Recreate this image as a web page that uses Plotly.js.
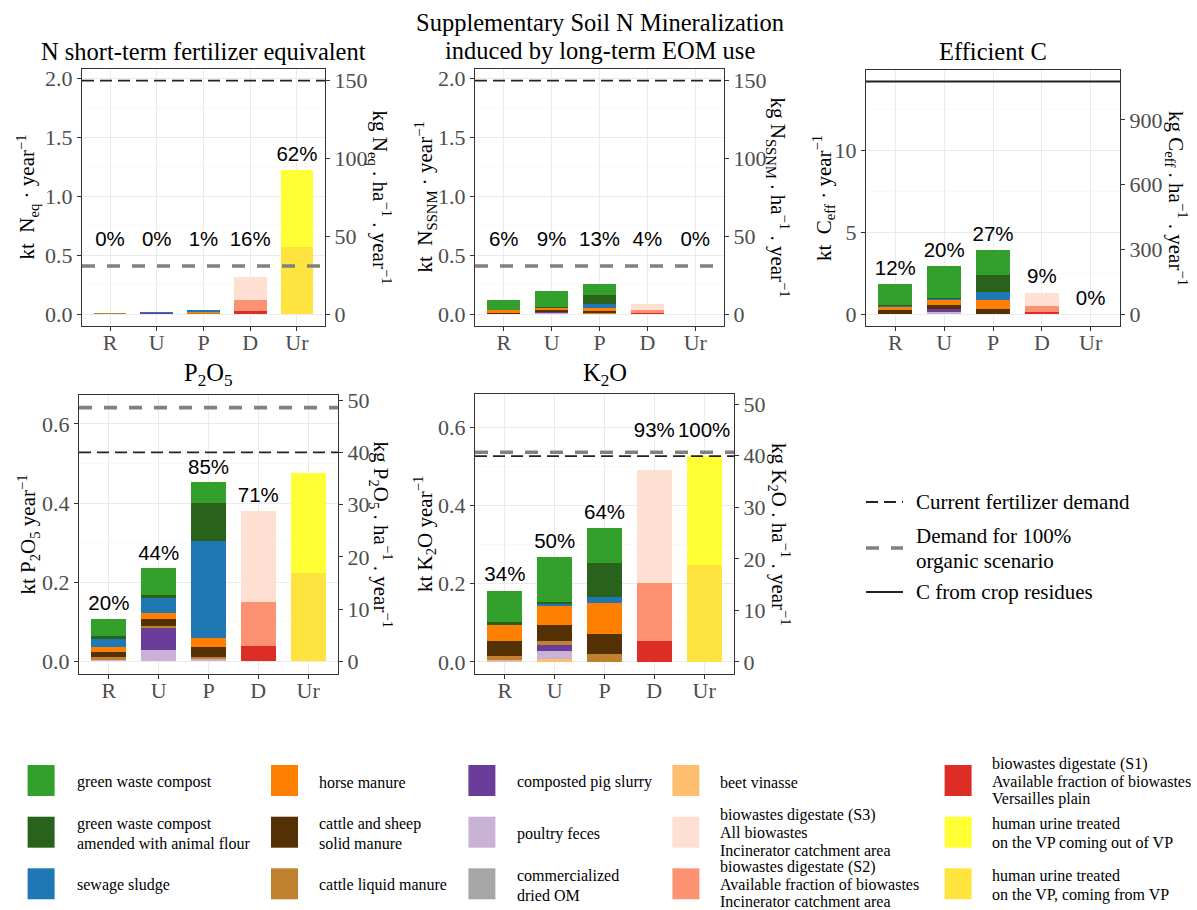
<!DOCTYPE html>
<html>
<head>
<meta charset="utf-8">
<script src="https://cdn.plot.ly/plotly-3.0.1.min.js"></script>
<style>html,body{margin:0;padding:0;background:#fff;}#chart{width:1197px;height:910px;}</style>
</head>
<body>
<div id="chart"></div>
<script>
// ---------------- DATA ----------------
const categories = ["R", "U", "P", "D", "Ur"];

// sources in legend order
const sourceNames = [
  "green waste compost", "green waste compost amended with animal flour", "sewage sludge",
  "horse manure", "cattle and sheep solid manure", "cattle liquid manure",
  "composted pig slurry", "poultry feces", "commercialized dried OM",
  "beet vinasse", "biowastes digestate (S3)", "biowastes digestate (S2)",
  "biowastes digestate (S1)", "human urine treated on the VP coming out of VP",
  "human urine treated on the VP, coming from VP"
];
const sourceColors = [
  "#33A02C", "#29621B", "#1F78B4",
  "#FF7F00", "#543005", "#BF812D",
  "#6A3D9A", "#CAB2D6", "#A6A6A6",
  "#FDBF6F", "#FEE0D2", "#FC9272",
  "#DE2D26", "#FFFF33", "#FFE33F"
];
const legendLabels = [
  ["green waste compost"],
  ["green waste compost", "amended with animal flour"],
  ["sewage sludge"],
  ["horse manure"],
  ["cattle and sheep", "solid manure"],
  ["cattle liquid manure"],
  ["composted pig slurry"],
  ["poultry feces"],
  ["commercialized", "dried OM"],
  ["beet vinasse"],
  ["biowastes digestate (S3)", "All biowastes", "Incinerator catchment area"],
  ["biowastes digestate (S2)", "Available fraction of biowastes", "Incinerator catchment area"],
  ["biowastes digestate (S1)", "Available fraction of biowastes", "Versailles plain"],
  ["human urine treated", "on the VP coming out of VP"],
  ["human urine treated", "on the VP, coming from VP"]
];

// kt per year; rows = sources (legend order), columns = categories R,U,P,D,Ur
const nEqValues = [
  [0, 0, 0, 0, 0],
  [0, 0, 0, 0, 0],
  [0, 0.011, 0.017, 0, 0],
  [0, 0, 0.005, 0, 0],
  [0, 0, 0.004, 0, 0],
  [0.007, 0, 0.008, 0, 0],
  [0, 0.003, 0, 0, 0],
  [0, 0.004, 0, 0, 0],
  [0, 0, 0, 0, 0],
  [0.004, 0.002, 0, 0, 0],
  [0, 0, 0, 0.20, 0],
  [0, 0, 0, 0.095, 0],
  [0, 0, 0, 0.025, 0],
  [0, 0, 0, 0, 0.65],
  [0, 0, 0, 0, 0.57]
];
const ssnmValues = [
  [0.08, 0.133, 0.10, 0, 0],
  [0.005, 0.007, 0.07, 0, 0],
  [0, 0.005, 0.033, 0, 0],
  [0.025, 0.015, 0.029, 0, 0],
  [0.005, 0.012, 0.018, 0, 0],
  [0.005, 0, 0.01, 0, 0],
  [0, 0.01, 0, 0, 0],
  [0, 0.008, 0, 0, 0],
  [0, 0, 0, 0, 0],
  [0, 0.005, 0, 0, 0],
  [0, 0, 0, 0.051, 0],
  [0, 0, 0, 0.024, 0],
  [0, 0, 0, 0.01, 0],
  [0, 0, 0, 0, 0],
  [0, 0, 0, 0, 0]
];
const cEffValues = [
  [1.28, 1.90, 1.56, 0, 0],
  [0.05, 0.10, 1.02, 0, 0],
  [0.03, 0.08, 0.51, 0, 0],
  [0.23, 0.25, 0.50, 0, 0],
  [0.20, 0.25, 0.30, 0, 0],
  [0.04, 0.03, 0.05, 0, 0],
  [0, 0.20, 0, 0, 0],
  [0, 0.12, 0, 0, 0],
  [0, 0, 0, 0, 0],
  [0, 0, 0, 0, 0],
  [0, 0, 0, 0.79, 0],
  [0, 0, 0, 0.39, 0],
  [0, 0, 0, 0.14, 0],
  [0, 0, 0, 0, 0],
  [0, 0, 0, 0, 0]
];
const p2o5Values = [
  [0.043, 0.068, 0.052, 0, 0],
  [0.008, 0.008, 0.095, 0, 0],
  [0.020, 0.037, 0.246, 0, 0],
  [0.013, 0.016, 0.024, 0, 0],
  [0.014, 0.016, 0.023, 0, 0],
  [0.006, 0.006, 0.007, 0, 0],
  [0, 0.055, 0, 0, 0],
  [0.004, 0.029, 0.005, 0, 0],
  [0, 0, 0, 0, 0],
  [0, 0, 0, 0, 0],
  [0, 0, 0, 0.230, 0],
  [0, 0, 0, 0.112, 0],
  [0, 0, 0, 0.039, 0],
  [0, 0, 0, 0, 0.253],
  [0, 0, 0, 0, 0.224]
];
const k2oValues = [
  [0.080, 0.115, 0.090, 0, 0],
  [0.008, 0.006, 0.087, 0, 0],
  [0, 0.005, 0.015, 0, 0],
  [0.041, 0.048, 0.079, 0, 0],
  [0.037, 0.041, 0.052, 0, 0],
  [0.012, 0.011, 0.020, 0, 0],
  [0, 0.013, 0, 0, 0],
  [0.002, 0.021, 0, 0, 0],
  [0, 0, 0, 0, 0],
  [0.002, 0.008, 0, 0, 0],
  [0, 0, 0, 0.290, 0],
  [0, 0, 0, 0.148, 0],
  [0, 0, 0, 0.054, 0],
  [0, 0, 0, 0, 0.279],
  [0, 0, 0, 0, 0.249]
];

const nEqPercent  = ["0%", "0%", "1%", "16%", "62%"];
const ssnmPercent = ["6%", "9%", "13%", "4%", "0%"];
const cEffPercent = ["12%", "20%", "27%", "9%", "0%"];
const p2o5Percent = ["20%", "44%", "85%", "71%", "90%"];
const k2oPercent  = ["34%", "50%", "64%", "93%", "100%"];

// reference lines (kt per year) per panel: N eq, SSNM, C eff, P2O5, K2O
const currentDemand = [1.98, 1.98, null, 0.528, 0.527];
const organicDemand = [0.41, 0.41, null, 0.641, 0.537];
const cropResidueC  = [null, null, 14.22, null, null];

const ktPerKgHa = 0.0132; // secondary axis conversion (kt/yr per kg/ha/yr)

// ---------------- LAYOUT HELPERS ----------------
const W = 1197, H = 910;
const fx = p => p / W;
const fy = p => 1 - p / H;
const SERIF = "Liberation Serif, Times New Roman, serif";
const SANS = "Liberation Sans, Arial, sans-serif";
const tickFont = {family: SERIF, size: 22, color: "#4D4D4D"};
const NB = "\u00A0";

const panels = [
  {values: nEqValues, pct: nEqPercent, px: [82, 325], py: [69, 326], range: [-0.099, 2.079], dtick: 0.5, fmt: ".1f", rdtick: 50,
   title: ["N short-term fertilizer equivalent"], titleY: [51],
   left: "kt" + NB + NB + "N<sub>eq</sub> · year<sup>−1</sup>", leftX: 27,
   right: "kg" + NB + "N<sub>eq</sub> . ha<sup>−1</sup> . year<sup>−1</sup>", rightX: 380,
   lab: {off: 0.12, floor: 0.62, clear: 0.1, bump: 0.16}},
  {values: ssnmValues, pct: ssnmPercent, px: [475, 724], py: [69, 326], range: [-0.099, 2.079], dtick: 0.5, fmt: ".1f", rdtick: 50,
   title: ["Supplementary Soil N Mineralization", "induced by long-term EOM use"], titleY: [22, 50],
   left: "kt" + NB + NB + "N<sub>SSNM</sub> · year<sup>−1</sup>", leftX: 425,
   right: "kg" + NB + "N<sub>SSNM</sub> . ha<sup>−1</sup> . year<sup>−1</sup>", rightX: 778,
   lab: {off: 0.12, floor: 0.62, clear: 0.1, bump: 0.16}},
  {values: cEffValues, pct: cEffPercent, px: [866, 1120], py: [70, 326], range: [-0.711, 14.93], dtick: 5, fmt: "d", rdtick: 300,
   title: ["Efficient C"], titleY: [51],
   left: "kt" + NB + NB + "C<sub>eff</sub> · year<sup>−1</sup>", leftX: 823,
   right: "kg" + NB + "C<sub>eff</sub> . ha<sup>−1</sup> . year<sup>−1</sup>", rightX: 1177,
   lab: {off: 0.88, floor: 0, clear: 0.5, bump: 1.1}},
  {values: p2o5Values, pct: p2o5Percent, px: [79, 338], py: [395, 674], range: [-0.032, 0.673], dtick: 0.2, fmt: ".1f", rdtick: 10,
   title: ["P<sub>2</sub>O<sub>5</sub>"], titleY: [374],
   left: "kt P<sub>2</sub>O<sub>5</sub> year<sup>−1</sup>", leftX: 28,
   right: "kg P<sub>2</sub>O<sub>5</sub> . ha<sup>−1</sup> . year<sup>−1</sup>", rightX: 381,
   lab: {off: 0.035, floor: 0, clear: 0.03, bump: 0.052}},
  {values: k2oValues, pct: k2oPercent, px: [475, 734], py: [394, 674], range: [-0.031, 0.686], dtick: 0.2, fmt: ".1f", rdtick: 10,
   title: ["K<sub>2</sub>O"], titleY: [374],
   left: "kt K<sub>2</sub>O year<sup>−1</sup>", leftX: 424,
   right: "kg K<sub>2</sub>O . ha<sup>−1</sup> . year<sup>−1</sup>", rightX: 780,
   lab: {off: 0.037, floor: 0, clear: 0.04, bump: 0.053}}
];

const traces = [];
const shapes = [];
const annotations = [];
const layout = {
  width: W, height: H, margin: {l: 0, r: 0, t: 0, b: 0}, autosize: false,
  paper_bgcolor: "#fff", plot_bgcolor: "#fff",
  barmode: "stack", showlegend: false,
  font: {family: SERIF, color: "#000"}
};

// bottom-to-top stacking order = reverse legend order
const stackOrder = sourceNames.map((_, i) => i).reverse();

panels.forEach((p, i) => {
  const n = i + 1;
  const xid = n === 1 ? "x" : "x" + n;
  const yid = n === 1 ? "y" : "y" + n;
  const rid = "y" + (n + 5);
  const xkey = n === 1 ? "xaxis" : "xaxis" + n;
  const ykey = n === 1 ? "yaxis" : "yaxis" + n;
  const rkey = "yaxis" + (n + 5);

  layout[xkey] = {
    domain: [fx(p.px[0]), fx(p.px[1])], anchor: yid, type: "category",
    categoryorder: "array", categoryarray: categories, range: [-0.6, 4.6],
    showline: true, mirror: true, linecolor: "#333", linewidth: 1,
    ticks: "outside", ticklen: 4, tickcolor: "#333", tickwidth: 1,
    showgrid: true, gridcolor: "#EBEBEB", gridwidth: 1, zeroline: false,
    tickfont: tickFont, ticklabelstandoff: -7, fixedrange: true
  };
  layout[ykey] = {
    domain: [fy(p.py[1]), fy(p.py[0])], anchor: xid, range: p.range,
    tick0: 0, dtick: p.dtick, tickformat: p.fmt,
    showline: true, mirror: true, linecolor: "#333", linewidth: 1,
    ticks: "outside", ticklen: 4, tickcolor: "#333", tickwidth: 1,
    showgrid: true, gridcolor: "#EBEBEB", gridwidth: 1, zeroline: false,
    minor: {dtick: p.dtick / 2, tick0: 0, showgrid: true, gridcolor: "#F5F5F5", gridwidth: 0.6, ticks: ""},
    tickfont: tickFont, fixedrange: true
  };
  layout[rkey] = {
    overlaying: yid, side: "right", anchor: xid,
    range: p.range.map(v => v / ktPerKgHa), tick0: 0, dtick: p.rdtick,
    showgrid: false, zeroline: false, showline: false,
    ticks: "outside", ticklen: 4, tickcolor: "#333", tickwidth: 1,
    tickfont: tickFont, fixedrange: true
  };

  // stacked bars
  stackOrder.forEach(s => {
    traces.push({
      type: "bar", x: categories, y: p.values[s], name: sourceNames[s],
      xaxis: xid, yaxis: yid, width: 0.7,
      marker: {color: sourceColors[s], line: {width: 0}},
      hoverinfo: "skip", showlegend: false
    });
  });
  // secondary axis registration
  traces.push({type: "scatter", mode: "markers", x: [], y: [], xaxis: xid, yaxis: rid, showlegend: false, hoverinfo: "skip"});

  // reference lines
  const lines = [];
  if (organicDemand[i] != null) {
    lines.push(organicDemand[i]);
    shapes.push({type: "line", xref: xid + " domain", yref: yid, x0: 0, x1: 1, y0: organicDemand[i], y1: organicDemand[i],
      line: {color: "#808080", width: 3.6, dash: "13px,12px"}});
  }
  if (currentDemand[i] != null) {
    lines.push(currentDemand[i]);
    shapes.push({type: "line", xref: xid + " domain", yref: yid, x0: 0, x1: 1, y0: currentDemand[i], y1: currentDemand[i],
      line: {color: "#222", width: 1.8, dash: "12px,6px"}});
  }
  if (cropResidueC[i] != null) {
    lines.push(cropResidueC[i]);
    shapes.push({type: "line", xref: xid + " domain", yref: yid, x0: 0, x1: 1, y0: cropResidueC[i], y1: cropResidueC[i],
      line: {color: "#222", width: 2}});
  }

  // percentage labels above bars
  const totals = categories.map((_, c) => p.values.reduce((a, row) => a + row[c], 0));
  const maxLine = Math.max(...lines);
  const labY = totals.map(t => {
    let y = Math.max(t + p.lab.off, p.lab.floor);
    if (lines.some(l => Math.abs(y - l) < p.lab.clear)) y = maxLine + p.lab.bump;
    return y;
  });
  traces.push({
    type: "scatter", mode: "text", x: categories, y: labY, text: p.pct,
    textposition: "middle center", textfont: {family: SANS, size: 20.5, color: "#000"},
    xaxis: xid, yaxis: yid, cliponaxis: false, hoverinfo: "skip", showlegend: false
  });

  // titles
  const cx = (p.px[0] + p.px[1]) / 2;
  p.title.forEach((t, k) => {
    annotations.push({text: t, xref: "paper", yref: "paper", x: fx(cx), y: fy(p.titleY[k]),
      xanchor: "center", yanchor: "middle", showarrow: false, font: {family: SERIF, size: 24.5, color: "#000"}});
  });
  const cy = (p.py[0] + p.py[1]) / 2;
  annotations.push({text: p.left, xref: "paper", yref: "paper", x: fx(p.leftX), y: fy(cy), textangle: -90,
    xanchor: "center", yanchor: "middle", showarrow: false, font: {family: SERIF, size: 21, color: "#000"}});
  annotations.push({text: p.right, xref: "paper", yref: "paper", x: fx(p.rightX), y: fy(cy), textangle: 90,
    xanchor: "center", yanchor: "middle", showarrow: false, font: {family: SERIF, size: 21, color: "#000"}});
});

// ---------------- LEGEND (sources) ----------------
const colSquareX = [27.6, 271, 468.4, 672.4, 944.6];
const colTextX = [74.6, 316.9, 514.7, 718, 990.3];
const rowTop = [765, 816.7, 868.3];
const sqW = 27, sqH = 31;
legendLabels.forEach((lines, k) => {
  const col = Math.floor(k / 3), row = k % 3;
  const x0 = colSquareX[col], y0 = rowTop[row];
  shapes.push({type: "rect", xref: "paper", yref: "paper", x0: fx(x0), x1: fx(x0 + sqW), y0: fy(y0 + sqH), y1: fy(y0),
    fillcolor: sourceColors[k], line: {width: 0}, layer: "above"});
  const cyy = y0 + sqH / 2 + (lines.length === 3 ? 0.5 : 1.5);
  const sp = lines.length === 3 ? 17.5 : 19.5;
  lines.forEach((t, j) => {
    annotations.push({text: t, xref: "paper", yref: "paper", x: fx(colTextX[col]), y: fy(cyy + (j - (lines.length - 1) / 2) * sp),
      xanchor: "left", yanchor: "middle", showarrow: false, font: {family: SERIF, size: 16, color: "#000"}});
  });
});

// ---------------- LEGEND (reference lines) ----------------
const keyX = [866, 903], keyTextX = 914;
shapes.push({type: "line", xref: "paper", yref: "paper", x0: fx(keyX[0]), x1: fx(keyX[1]), y0: fy(502), y1: fy(502),
  line: {color: "#222", width: 1.8, dash: "12px,6px"}});
shapes.push({type: "line", xref: "paper", yref: "paper", x0: fx(keyX[0]), x1: fx(keyX[1]), y0: fy(548), y1: fy(548),
  line: {color: "#808080", width: 3.6, dash: "13px,12px"}});
shapes.push({type: "line", xref: "paper", yref: "paper", x0: fx(keyX[0]), x1: fx(keyX[1]), y0: fy(592), y1: fy(592),
  line: {color: "#222", width: 2}});
[["Current fertilizer demand", 502], ["Demand for 100%", 536], ["organic scenario", 561], ["C from crop residues", 592]].forEach(([t, y]) => {
  annotations.push({text: t, xref: "paper", yref: "paper", x: fx(keyTextX), y: fy(y), xanchor: "left", yanchor: "middle",
    showarrow: false, font: {family: SERIF, size: 21, color: "#000"}});
});

layout.shapes = shapes;
layout.annotations = annotations;

Plotly.newPlot("chart", traces, layout, {staticPlot: true, displayModeBar: false});
</script>
</body>
</html>
